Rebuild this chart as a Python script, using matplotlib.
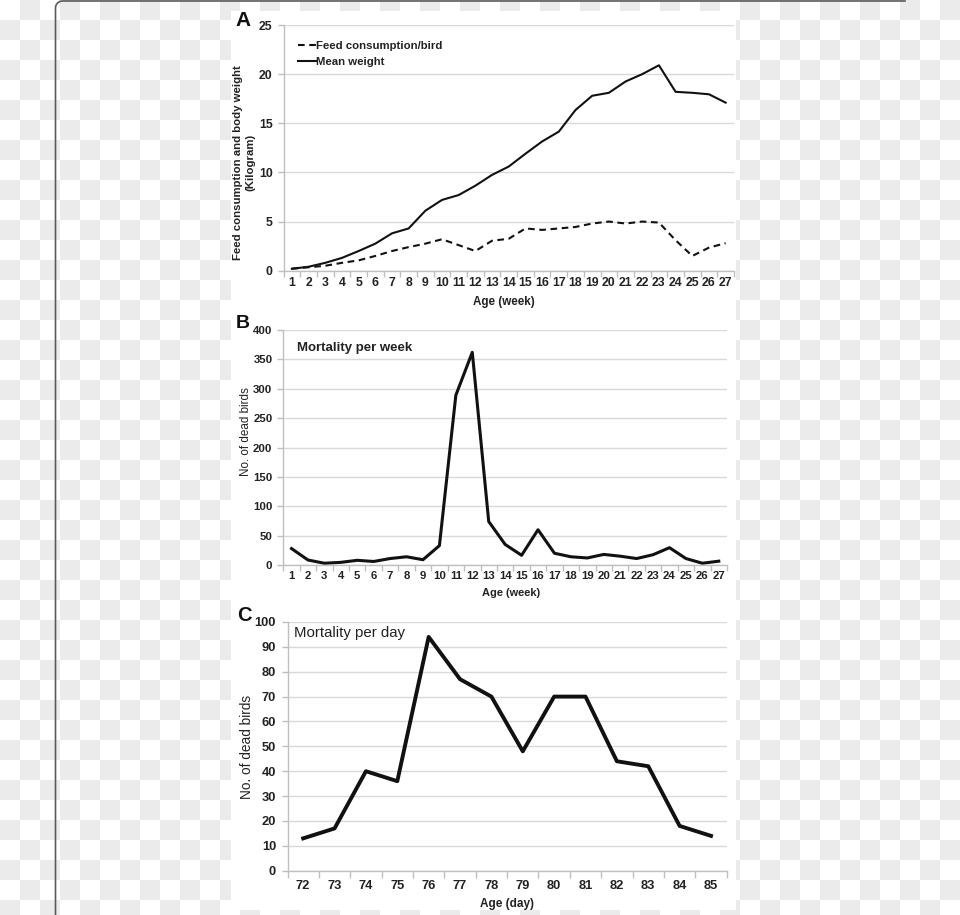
import numpy as np
import matplotlib
matplotlib.use('Agg')
from matplotlib import pyplot as plt
from matplotlib.lines import Line2D

plt.rcParams['font.family'] = ['Liberation Sans', 'DejaVu Sans']

###########################################
#               Data
###########################################
weeks = list(range(1, 28))
feed_per_bird = [0.2, 0.35, 0.5, 0.8, 1.05, 1.5, 2.0, 2.4, 2.75, 3.2, 2.6, 2.0, 3.05, 3.25,
                 4.3, 4.15, 4.3, 4.45, 4.8, 5.0, 4.8, 5.0, 4.9, 3.1, 1.5, 2.35, 2.8]
mean_weight = [0.2, 0.4, 0.8, 1.3, 2.0, 2.75, 3.8, 4.3, 6.1, 7.2, 7.7, 8.65, 9.75, 10.6,
               11.9, 13.15, 14.15, 16.35, 17.8, 18.1, 19.25, 20.0, 20.9, 18.2, 18.1, 17.95, 17.1]
dead_per_week = [28, 8.5, 3, 4.5, 8, 6, 11, 14, 9, 33, 289, 362, 74, 35,
                 16.5, 60, 20, 14, 12, 18, 15, 11, 17.5, 29.5, 11, 3, 6.5]
days = list(range(72, 86))
dead_per_day = [13, 17, 40, 36, 94, 77, 70, 48, 70, 70, 44, 42, 18, 14]

W, H = 960, 915
TXT = '#222222'
AXC = '#bfbfbf'
GRID = '#d9d9d9'

fig = plt.figure(figsize=(W / 100, H / 100), dpi=100)

# transparent-looking checkerboard with the white figure area on top
yy, xx = np.mgrid[0:H, 0:W]
bg = np.where(((xx // 20 + yy // 20) % 2) == 1, 0.925, 1.0)
bg[11:910, 231:736] = 1.0
fig.figimage(np.dstack([bg, bg, bg]), 0, 0, zorder=-5)


def fx(px):
    return px / W


def fy(py):
    return 1 - py / H


# card border (left edge + top edge with a rounded corner)
ang = np.linspace(np.pi, np.pi / 2, 12)
cx = list(55.5 + 7 + 7 * np.cos(ang))
cy = list(8 - 7 * np.sin(ang))
bx = [55.5] + cx + [905]
by = [H] + cy + [1]
fig.add_artist(Line2D([fx(v) for v in bx], [fy(v) for v in by], color='#5a5a5a', lw=1.2))


def px_axes(l, t, r, b):
    return fig.add_axes([fx(l), fy(b), fx(r) - fx(l), fy(t) - fy(b)])


def style(ax, xs, ylim, ystep, fs, xpad, ypad):
    ax.set_facecolor('white')
    for s in ['top', 'right']:
        ax.spines[s].set_visible(False)
    for s in ['left', 'bottom']:
        ax.spines[s].set_color(AXC)
        ax.spines[s].set_linewidth(1)
    ax.set_xlim(xs[0] - 0.5, xs[-1] + 0.5)
    ax.set_ylim(*ylim)
    ax.set_xticks(xs)
    ax.set_xticklabels([str(v) for v in xs])
    ax.set_xticks([v - 0.5 for v in xs] + [xs[-1] + 0.5], minor=True)
    ax.set_yticks(np.arange(ylim[0], ylim[1] + ystep, ystep))
    ax.tick_params(axis='x', which='major', length=0, pad=xpad, labelsize=fs, labelcolor=TXT)
    ax.tick_params(axis='x', which='minor', length=4, color=AXC, width=1)
    ax.tick_params(axis='y', length=4, color=AXC, width=1, pad=ypad, labelsize=fs, labelcolor=TXT)
    for lab in ax.get_xticklabels() + ax.get_yticklabels():
        lab.set_fontweight('bold')
    ax.grid(axis='y', color=GRID, lw=1)
    ax.set_axisbelow(True)


# ---------------- Panel A ----------------
axA = px_axes(283.5, 25, 734, 270.7)
style(axA, weeks, (0, 25), 5, 8.8, 4.8, 3.8)
axA.plot(weeks, feed_per_bird, color='#111111', lw=1.5, dashes=(3.2, 2.2),
         label='Feed consumption/bird')
axA.plot(weeks, mean_weight, color='#111111', lw=1.5, label='Mean weight')
leg = axA.legend(loc='upper left', bbox_to_anchor=(0.032, 0.936), frameon=False,
                 borderpad=0, borderaxespad=0, handlelength=1.55, handletextpad=0.05,
                 labelspacing=0.58, prop={'size': 8.2, 'weight': 'bold'})
for t in leg.get_texts():
    t.set_color(TXT)
fig.text(fx(244), fy(162.5), 'Feed consumption and body weight\n(Kilogram)', rotation=90,
         ha='center', va='center', multialignment='center', fontsize=8.2,
         fontweight='bold', color=TXT, linespacing=1.3)
fig.text(fx(504), fy(301.7), 'Age (week)', ha='center', va='center', fontsize=8.4,
         fontweight='bold', color=TXT)
fig.text(fx(243), fy(21), 'A', ha='center', va='center', fontsize=15, fontweight='bold',
         color='#111111')

# ---------------- Panel B ----------------
axB = px_axes(283.3, 330, 727, 565)
style(axB, weeks, (0, 400), 50, 8.2, 4.6, 3.8)
axB.plot(weeks, dead_per_week, color='#111111', lw=2.2)
axB.text(0.03, 0.925, 'Mortality per week', transform=axB.transAxes, ha='left',
         va='center', fontsize=9.5, fontweight='bold', color=TXT)
fig.text(fx(245.7), fy(431.7), 'No. of dead birds', rotation=90, ha='center', va='center',
         fontsize=8.4, color=TXT)
fig.text(fx(511), fy(593.3), 'Age (week)', ha='center', va='center', fontsize=7.9,
         fontweight='bold', color=TXT)
fig.text(fx(242.5), fy(323.5), 'B', ha='center', va='center', fontsize=14, fontweight='bold',
         color='#111111')

# ---------------- Panel C ----------------
axC = px_axes(287.5, 622, 726.7, 870.7)
style(axC, days, (0, 100), 10, 9.3, 6.4, 4.2)
axC.tick_params(axis='x', which='minor', length=5)
axC.plot(days, dead_per_day, color='#111111', lw=2.8)
axC.text(0.015, 0.955, 'Mortality per day', transform=axC.transAxes, ha='left',
         va='center', fontsize=10.8, color=TXT)
fig.text(fx(246.7), fy(746.7), 'No. of dead birds', rotation=90, ha='center', va='center',
         fontsize=9.8, color=TXT)
fig.text(fx(507), fy(904), 'Age (day)', ha='center', va='center', fontsize=8.5,
         fontweight='bold', color=TXT)
fig.text(fx(244), fy(615.5), 'C', ha='center', va='center', fontsize=14.5, fontweight='bold',
         color='#111111')

fig.savefig('out.png', dpi=100)
